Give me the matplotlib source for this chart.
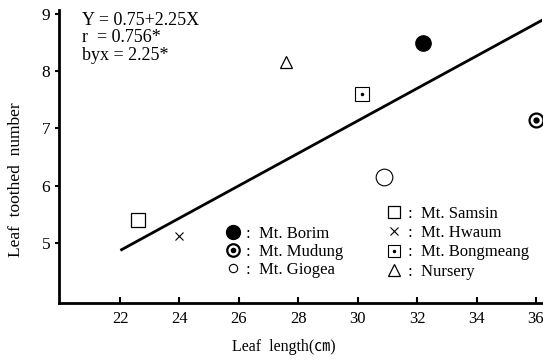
import numpy as np
import matplotlib.pyplot as plt
from matplotlib.lines import Line2D

# leaf length (cm) vs leaf toothed number by site
sites = ['Mt. Borim', 'Mt. Mudung', 'Mt. Giogea', 'Mt. Samsin',
         'Mt. Hwaum', 'Mt. Bongmeang', 'Nursery']
leaf_length = [32.2, 36.0, 30.9, 22.6, 24.0, 30.15, 27.6]
toothed_num = [8.49, 7.15, 6.15, 5.40, 5.12, 7.60, 8.16]

# regression line as drawn
fit_x = [22.05, 36.3]
fit_y = [4.88, 8.92]

xticks = [22, 24, 26, 28, 30, 32, 34, 36]
yticks = [5, 6, 7, 8, 9]

plt.rcParams['font.family'] = ['Liberation Serif', 'Noto Sans CJK JP']

fig = plt.figure(figsize=(5.43, 3.61), dpi=100)
ax = fig.add_axes([0.109, 0.161, 0.889, 0.811])

ax.plot(fit_x, fit_y, color='black', lw=2)

k = 'black'
ax.plot(leaf_length[0], toothed_num[0], 'o', ms=11, color=k)
ax.plot(leaf_length[1], toothed_num[1], 'o', ms=10, mfc='white', mec=k, mew=1.6)
ax.plot(leaf_length[1], toothed_num[1], 'o', ms=3.5, color=k)
ax.plot(leaf_length[2], toothed_num[2], 'o', ms=12, mfc='white', mec=k, mew=0.8)
ax.plot(leaf_length[3], toothed_num[3], 's', ms=10, mfc='white', mec=k, mew=0.9)
ax.plot(leaf_length[4], toothed_num[4], 'x', ms=6, color=k, mew=0.8)
ax.plot(leaf_length[5], toothed_num[5], 's', ms=10, mfc='white', mec=k, mew=0.8)
ax.plot(leaf_length[5], toothed_num[5], 'o', ms=1.5, color=k)
ax.plot(leaf_length[6], toothed_num[6], '^', ms=9, mfc='white', mec=k, mew=0.9)

ax.set_xlim(19.95, 36.2)
ax.set_ylim(3.95, 9.07)
ax.set_xticks(xticks)
ax.set_yticks(yticks)
ax.tick_params(axis='x', direction='in', length=4, width=1.5, labelsize=12, pad=6)
ax.tick_params(axis='y', direction='out', length=3, width=1.5, labelsize=12.5)
for s in ['top', 'right']:
    ax.spines[s].set_visible(False)
for s in ['left', 'bottom']:
    ax.spines[s].set_linewidth(2)

ax.set_xlabel('Leaf  length(㎝)', fontsize=11.5)
ax.xaxis.set_label_coords(0.465, -0.125)
ax.set_ylabel('Leaf  toothed  number', fontsize=12.5)
ax.yaxis.set_label_coords(-0.072, 0.42)

ax.text(0.047, 0.995, 'Y = 0.75+2.25X\nr  = 0.756*\nbyx = 2.25*', transform=ax.transAxes,
        va='top', ha='left', fontsize=13, linespacing=1.05)

# legend, two columns
h_borim = Line2D([], [], ls='', marker='o', ms=10, color=k)
h_mud = (Line2D([], [], ls='', marker='o', ms=9, mfc='white', mec=k, mew=1.6),
         Line2D([], [], ls='', marker='o', ms=3, color=k))
h_gio = Line2D([], [], ls='', marker='o', ms=6, mfc='white', mec=k, mew=0.8)
h_sam = Line2D([], [], ls='', marker='s', ms=9, mfc='white', mec=k, mew=0.9)
h_hwa = Line2D([], [], ls='', marker='x', ms=6, color=k, mew=0.8)
h_bong = (Line2D([], [], ls='', marker='s', ms=9, mfc='white', mec=k, mew=0.8),
          Line2D([], [], ls='', marker='o', ms=1.5, color=k))
h_nur = Line2D([], [], ls='', marker='^', ms=8, mfc='white', mec=k, mew=0.9)

leg1 = ax.legend([h_borim, h_mud, h_gio], [':  ' + s for s in sites[:3]],
                 loc='upper left', bbox_to_anchor=(0.325, 0.292), frameon=False,
                 fontsize=12, handlelength=1.0, handletextpad=0.3, labelspacing=0.12,
                 borderpad=0)
ax.add_artist(leg1)
ax.legend([h_sam, h_hwa, h_bong, h_nur], [':  ' + s for s in sites[3:]],
          loc='upper left', bbox_to_anchor=(0.66, 0.36), frameon=False,
          fontsize=12, handlelength=1.0, handletextpad=0.3, labelspacing=0.2,
          borderpad=0)

fig.savefig('out.png', dpi=100)
